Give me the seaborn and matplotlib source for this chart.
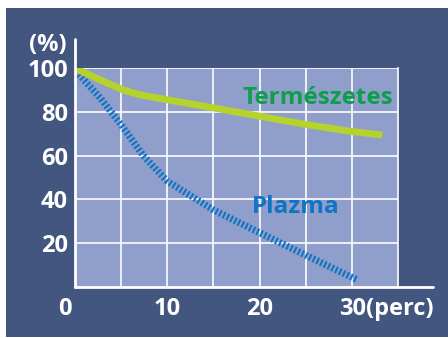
import matplotlib
matplotlib.use("Agg")
import matplotlib.pyplot as plt
import matplotlib.transforms as mtransforms
from matplotlib.patches import Rectangle
import seaborn as sns
import pandas as pd

# Data (minutes vs. %)
natural_x = [0.2, 2.5, 5.2, 7.0, 10.0, 15.0, 20.0, 25.0, 30.0, 33.3]
natural_y = [99.5, 95.0, 90.0, 87.8, 85.5, 81.8, 78.0, 74.2, 71.0, 69.4]
plasma_x = [0.1, 2.7, 5.1, 7.4, 10.0, 15.0, 20.0, 25.0, 30.6]
plasma_y = [98.5, 86.5, 73.5, 60.0, 48.3, 35.2, 24.8, 14.5, 3.2]

x_ticks = [0, 10, 20, 30]
x_labels = ["0", "10", "20", "30(perc)"]
x_grid = [5, 10, 15, 20, 25, 30]
y_ticks = [20, 40, 60, 80, 100]

BG = "#435680"
PANEL = "#8F9ECB"
GREEN_LINE = "#B5D22D"
GREEN_TEXT = "#0E9F4C"
BLUE = "#0F74C4"

sns.set_style("white", {"axes.facecolor": PANEL})
plt.rcParams["font.family"] = ["Open Sans", "DejaVu Sans"]

fig = plt.figure(figsize=(4.48, 3.38), dpi=100)
fig.patch.set_facecolor("white")
fig.patches.append(Rectangle((6 / 448, 1 / 338), 1, 329 / 338, transform=fig.transFigure,
                             facecolor=BG, edgecolor="none", zorder=-10))

ax = fig.add_axes([75 / 448, 51 / 338, 323 / 448, 219 / 338])
ax.set_facecolor(PANEL)

df_nat = pd.DataFrame({"t": natural_x, "v": natural_y})
df_pla = pd.DataFrame({"t": plasma_x, "v": plasma_y})

sns.lineplot(data=df_nat, x="t", y="v", ax=ax, color=GREEN_LINE, linewidth=5.0,
             solid_capstyle="butt", solid_joinstyle="round", zorder=4)
sns.lineplot(data=df_pla, x="t", y="v", ax=ax, color=BLUE, linewidth=5.0,
             dashes=False, zorder=3)
pl = ax.lines[-1]
pl.set_linestyle((0, (0.3, 0.3)))
pl.set_dash_capstyle("butt")
pl.set_dash_joinstyle("round")

ax.set_xlim(0, 35)
ax.set_ylim(0, 100)

ax.xaxis.remove_overlapping_locs = False
ax.set_xticks(x_ticks)
ax.set_xticklabels(x_labels)
ax.set_xticks(x_grid, minor=True)
ax.set_yticks(y_ticks)
ax.grid(False)
ax.grid(which="minor", axis="x", color="white", linewidth=1.2, zorder=1)
ax.grid(which="major", axis="y", color="white", linewidth=1.2, zorder=1)
ax.set_axisbelow(True)
ax.tick_params(which="both", length=0)
ax.tick_params(axis="x", pad=7)
ax.tick_params(axis="y", pad=5)
for lab in ax.get_xticklabels() + ax.get_yticklabels():
    lab.set_color("white")
    lab.set_fontweight("bold")
    lab.set_fontsize(17)

xl = ax.get_xticklabels()
xl[0].set_transform(xl[0].get_transform() + mtransforms.ScaledTranslation(-10 / 100, 0, fig.dpi_scale_trans))
xl[-1].set_horizontalalignment("left")
xl[-1].set_transform(xl[-1].get_transform() + mtransforms.ScaledTranslation(-13 / 100, 0, fig.dpi_scale_trans))

ax.set_xlabel("")
ax.set_ylabel("")

for s in ["top", "bottom", "left"]:
    ax.spines[s].set_visible(False)
ax.spines["right"].set_color("white")
ax.spines["right"].set_linewidth(1.2)

# extended white axes
ax.plot([0, 0], [0, 1.133], transform=ax.transAxes, color="white", linewidth=2, clip_on=False, zorder=6)
ax.plot([0, 1.108], [0, 0], transform=ax.transAxes, color="white", linewidth=2, clip_on=False, zorder=6)

ax.text(-0.025, 1.105, "(%)", transform=ax.transAxes, ha="right", va="center",
        color="white", fontsize=17, fontweight="bold")

ax.text(26.3, 86.3, "Természetes", ha="center", va="center", color=GREEN_TEXT,
        fontsize=17.5, fontweight="bold", zorder=5)
ax.text(23.9, 36.5, "Plazma", ha="center", va="center", color=BLUE,
        fontsize=17.5, fontweight="bold", zorder=5)

fig.savefig("out.png", dpi=100)
